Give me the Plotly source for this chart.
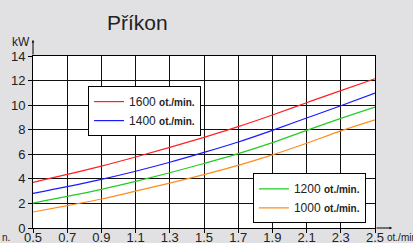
import plotly.graph_objects as go

speeds = [0.5, 0.7, 0.9, 1.1, 1.3, 1.5, 1.7, 1.9, 2.1, 2.3, 2.5]
p1600 = [3.72, 4.36, 5.04, 5.78, 6.56, 7.38, 8.25, 9.2, 10.2, 11.18, 12.15]
p1400 = [2.82, 3.37, 3.96, 4.62, 5.35, 6.15, 7.0, 7.95, 8.95, 9.95, 10.98]
p1200 = [2.03, 2.57, 3.15, 3.8, 4.5, 5.25, 6.05, 6.95, 7.95, 8.92, 9.84]
p1000 = [1.3, 1.82, 2.36, 3.0, 3.65, 4.35, 5.1, 5.95, 6.9, 7.9, 8.8]
series_names = ["1600", "1400", "1200", "1000"]
x_ticks = [0.5, 0.7, 0.9, 1.1, 1.3, 1.5, 1.7, 1.9, 2.1, 2.3, 2.5]
y_ticks = [0, 2, 4, 6, 8, 10, 12, 14]

colors = ["#ff2020", "#1a1aff", "#22cc22", "#ff8c1a"]
legends = ["legend", "legend", "legend2", "legend2"]
FONT = "Liberation Sans, Arial, sans-serif"

fig = go.Figure()
for name, vals, c, lg in zip(series_names, [p1600, p1400, p1200, p1000], colors, legends):
    fig.add_trace(go.Scatter(
        x=speeds, y=vals, mode="lines",
        line=dict(color=c, width=1.2, shape="spline"),
        name=name + " <span style='font-size:10px'><b>ot./min.</b></span>",
        legend=lg,
    ))

axis_common = dict(
    showline=True, linecolor="black", linewidth=1, mirror=True,
    showgrid=True, gridcolor="#111", gridwidth=1,
    ticks="outside", ticklen=4, tickcolor="black",
    tickfont=dict(family=FONT, size=13, color="#222"),
    zeroline=False, automargin=False,
)

fig.update_xaxes(range=[0.5, 2.5], tickvals=x_ticks,
                 ticktext=[f"{v:.1f}" for v in x_ticks],
                 ticklabelstandoff=-7, **axis_common)
fig.update_yaxes(range=[0, 14], tickvals=y_ticks, **axis_common)

legend_common = dict(
    bgcolor="white", bordercolor="black", borderwidth=1,
    font=dict(family=FONT, size=12, color="#222"),
    itemwidth=30, xanchor="left", yanchor="top",
    tracegroupgap=0,
)

fig.update_layout(
    width=413, height=243,
    margin=dict(l=33, r=38, t=56, b=15, autoexpand=False),
    paper_bgcolor="#e1e1e3", plot_bgcolor="white",
    showlegend=True,
    legend=dict(x=0.161, y=0.825, **legend_common),
    legend2=dict(x=0.643, y=0.318, **legend_common),
    title=dict(text="Příkon", font=dict(family=FONT, size=21, color="#222"),
               xref="container", x=107 / 413, xanchor="left",
               yref="container", y=1 - 23 / 243, yanchor="middle"),
    annotations=[
        dict(text="kW", xref="paper", yref="paper", x=(21 - 33) / 342, y=(228 - 42) / 172,
             showarrow=False, font=dict(family=FONT, size=12, color="#222"),
             xanchor="center", yanchor="middle"),
        dict(text="", xref="paper", yref="paper", x=0, y=(228 - 40) / 172,
             ax=0, ay=16, showarrow=True, arrowhead=2, arrowsize=0.5,
             arrowwidth=1, arrowcolor="black"),
        dict(text="", xref="paper", yref="paper", x=(392 - 33) / 342, y=0,
             ax=-17, ay=0, showarrow=True, arrowhead=2, arrowsize=0.5,
             arrowwidth=1, arrowcolor="black"),
        dict(text="ot./min", xref="paper", yref="paper", x=(385 - 33) / 342,
             y=(228 - 237) / 172, showarrow=False, xanchor="left", yanchor="middle",
             font=dict(family=FONT, size=10, color="#222")),
        dict(text="n.", xref="paper", yref="paper", x=(0 - 33) / 342,
             y=(228 - 237) / 172, showarrow=False, xanchor="left", yanchor="middle",
             font=dict(family=FONT, size=10, color="#222")),
    ],
)

fig.write_html("out.html", config={"displayModeBar": False},
               post_script="document.body.style.margin='0';document.body.style.overflow='hidden';")
